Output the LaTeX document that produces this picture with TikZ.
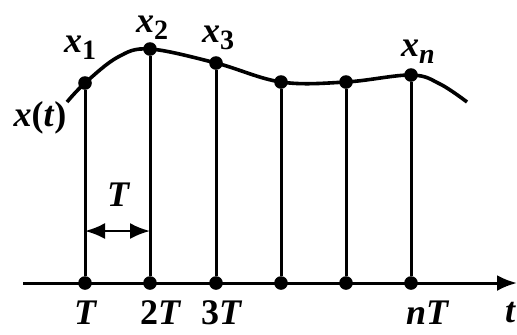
\documentclass[tikz,border=0pt]{standalone}
\usepackage{fontspec}
\setmainfont{Liberation Serif}
\usetikzlibrary{arrows.meta}
\newcommand{\sub}[1]{\raisebox{-0.45ex}{\fontsize{14}{14}\selectfont #1}}

\begin{document}
\begin{tikzpicture}[
    x=0.5pt, y=-0.5pt,
    dot/.style={circle, fill=black, inner sep=0pt, minimum size=6.8pt},
    lbl/.style={font=\fontsize{18}{20}\selectfont\bfseries\itshape, inner sep=0pt},
    stem/.style={line width=1.5pt},
    >={Latex[length=10pt, width=8pt]}
  ]
  \useasboundingbox (0,0) rectangle (517,334);

  % time axis
  \coordinate (ax0) at (23,283);
  \coordinate (ax1) at (517,283);
  \draw[stem, ->] (ax0) -- (ax1);

  % signal curve
  \draw[line width=1.8pt] plot[smooth, tension=0.6] coordinates
    {(67,102) (85,83) (118,57) (150,49) (216,63) (281,82) (346,82) (411,75) (440,84) (467,102)};

  % samples
  \foreach \px/\py [count=\i] in {85/83,150/49,216/63,281/82,346/82,411/75} {
    \node[dot] (s\i) at (\px,\py) {};
    \node[dot] (b\i) at (\px,283) {};
    \draw[stem] (b\i) -- (s\i);
  }

  % sample labels
  \node[lbl] (lx1) at (80,48) {x\sub{\upshape 1}};
  \node[lbl] (lx2) at (152,28) {x\sub{\upshape 2}};
  \node[lbl] (lx3) at (218,38) {x\sub{\upshape 3}};
  \node[lbl] (lxn) at (418,52) {x\sub{n}};
  \node[lbl] (lxt) at (40,118) {x\/\upshape(\itshape t\/\upshape)};

  % sampling period
  \coordinate (ta) at (85,231);
  \coordinate (tb) at (150,231);
  \draw[line width=1.2pt, <->] (ta) -- (tb);
  \node[lbl] (lT) at (118,195) {T};

  % axis labels
  \node[lbl] (t1) at (85,313) {T};
  \node[lbl] (t2) at (160,313) {\upshape 2\itshape T};
  \node[lbl] (t3) at (221,313) {\upshape 3\itshape T};
  \node[lbl] (tn) at (427,313) {nT};
  \node[lbl] (tt) at (510,313) {t};
\end{tikzpicture}
\end{document}
